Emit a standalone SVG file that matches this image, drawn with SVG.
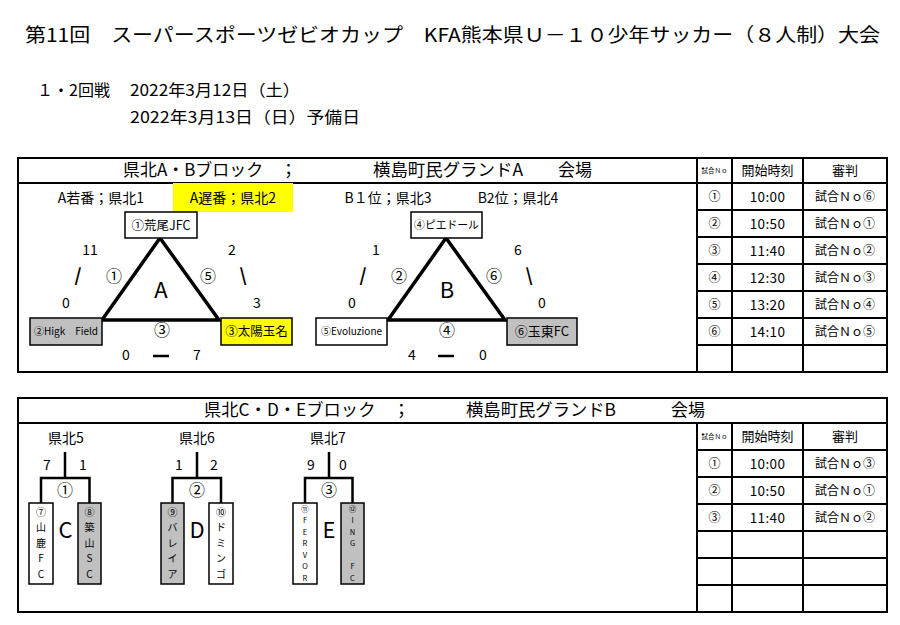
<svg xmlns="http://www.w3.org/2000/svg" width="900" height="625" viewBox="0 0 900 625">
<style>
text{font-family:"Noto Sans CJK JP","Noto Sans",sans-serif;fill:#000}
.c{text-anchor:middle}
.frame{fill:none;stroke:#000;stroke-width:2}
.grid{stroke:#000;stroke-width:2;fill:none}
.box{stroke:#000;stroke-width:1.5}
.w{fill:#fff}.g{fill:#c0c0c0}.y{fill:#ffff00}
.tri{fill:none;stroke:#000;stroke-width:3.5;stroke-linejoin:miter}
.br{fill:none;stroke:#000;stroke-width:2.5}
.s14{font-size:14px}.s16{font-size:16px}.s17{font-size:17px}
.sl{font-size:18px;font-weight:bold}
.t13{font-size:13px}.t12{font-size:12px}.tm{font-size:13.5px;letter-spacing:0.4px}
.v{font-size:10px;text-anchor:middle}
.vs{font-size:7.5px;text-anchor:middle}
</style>
<rect width="900" height="625" fill="#fff"/>

<g id="header">
<text x="25" y="42" font-size="19" textLength="855" lengthAdjust="spacingAndGlyphs">第11回　スーパースポーツゼビオカップ　KFA熊本県Ｕ－１０少年サッカー（８人制）大会</text>
<text x="37" y="96" class="s16">１・2回戦</text>
<text x="130" y="96" class="s16" textLength="170" lengthAdjust="spacingAndGlyphs">2022年3月12日（土）</text>
<text x="130" y="123" class="s16" textLength="230" lengthAdjust="spacingAndGlyphs">2022年3月13日（日）予備日</text>
</g>

<!-- upper block frame -->
<g id="blockAB-frame">
<rect class="frame" x="18" y="158" width="869" height="214"/>
<path class="grid" d="M18 183H697M697 158V372M732 158V372M803 158V372M697 183H887M697 210H887M697 237H887M697 264H887M697 291H887M697 318H887M697 345H887"/>
<text x="123" y="176" class="s17" textLength="174" lengthAdjust="spacingAndGlyphs">県北A・Bブロック　；</text>
<text x="373" y="176" class="s17" textLength="150" lengthAdjust="spacingAndGlyphs">横島町民グランドA</text>
<text x="558" y="176" class="s17">会場</text>
<rect class="y" x="173" y="183" width="120" height="29"/>
<text x="101" y="203" class="s14 c">A若番；県北1</text>
<text x="233" y="203" class="s14 c">A遅番；県北2</text>
<text x="388" y="203" class="s14 c">B１位；県北3</text>
<text x="518" y="203" class="s14 c">B2位；県北4</text>
</g>

<g id="tableAB">
<text x="714.5" y="173" class="c" font-size="6.5">試合Ｎｏ</text>
<text x="767.5" y="175" class="t13 c">開始時刻</text>
<text x="845" y="175" class="t13 c">審判</text>
<text x="714.5" y="201" class="t12 c">①</text><text x="767.5" y="201.5" class="tm c">10:00</text><text x="845" y="201" class="t12 c">試合Ｎｏ⑥</text>
<text x="714.5" y="228" class="t12 c">②</text><text x="767.5" y="228.5" class="tm c">10:50</text><text x="845" y="228" class="t12 c">試合Ｎｏ①</text>
<text x="714.5" y="255" class="t12 c">③</text><text x="767.5" y="255.5" class="tm c">11:40</text><text x="845" y="255" class="t12 c">試合Ｎｏ②</text>
<text x="714.5" y="282" class="t12 c">④</text><text x="767.5" y="282.5" class="tm c">12:30</text><text x="845" y="282" class="t12 c">試合Ｎｏ③</text>
<text x="714.5" y="309" class="t12 c">⑤</text><text x="767.5" y="309.5" class="tm c">13:20</text><text x="845" y="309" class="t12 c">試合Ｎｏ④</text>
<text x="714.5" y="336" class="t12 c">⑥</text><text x="767.5" y="336.5" class="tm c">14:10</text><text x="845" y="336" class="t12 c">試合Ｎｏ⑤</text>
</g>

<g id="connectors">
<polygon class="tri" points="160,238 102,320 219,320"/>
<polygon class="tri" points="446,238 388,320 505,320"/>
<path class="br" d="M153 356H169M438 356H454"/>
<path class="br" d="M65 452V478M41 503V478H89.5V503"/>
<path class="br" d="M197 452V478M172.5 503V478H221V503"/>
<path class="br" d="M329 452V478M305 503V478H352.5V503"/>
</g>

<g id="labelsA">
<text x="90" y="255" class="s14 c">11</text>
<text x="78" y="282" class="sl c">/</text>
<text x="66" y="308" class="s14 c">0</text>
<text x="114" y="282" class="s16 c">①</text>
<text x="161" y="298" class="c" font-size="22">A</text>
<text x="208" y="282" class="s16 c">⑤</text>
<text x="232" y="255" class="s14 c">2</text>
<text x="243" y="282" class="sl c">\</text>
<text x="257" y="308" class="s14 c">3</text>
<text x="162" y="336" class="s16 c">③</text>
<text x="126" y="360" class="s14 c">0</text>
<text x="197" y="360" class="s14 c">7</text>
</g>
<g id="labelsB">
<text x="376" y="255" class="s14 c">1</text>
<text x="363" y="282" class="sl c">/</text>
<text x="352" y="308" class="s14 c">0</text>
<text x="399" y="282" class="s16 c">②</text>
<text x="447" y="298" class="c" font-size="22">B</text>
<text x="494" y="282" class="s16 c">⑥</text>
<text x="518" y="255" class="s14 c">6</text>
<text x="529" y="282" class="sl c">\</text>
<text x="542" y="308" class="s14 c">0</text>
<text x="447" y="336" class="s16 c">④</text>
<text x="412" y="360" class="s14 c">4</text>
<text x="483" y="360" class="s14 c">0</text>
</g>

<g id="node1"><rect class="box w" x="125" y="212" width="72" height="26"/><text x="161" y="229.5" class="c" font-size="12.5">①荒尾JFC</text></g>
<g id="node2"><rect class="box g" x="30" y="318" width="72" height="27"/><text x="66" y="335" class="c" font-size="10">②Higk　Field</text></g>
<g id="node3"><rect class="box y" x="221" y="318" width="71" height="27"/><text x="256.5" y="336" class="c" font-size="12.5">③太陽玉名</text></g>
<g id="node4"><rect class="box w" x="411" y="212" width="71" height="26"/><text x="446.5" y="229" class="c" font-size="10.8">④ピエドール</text></g>
<g id="node5"><rect class="box w" x="316" y="318" width="71" height="27"/><text x="351.5" y="335" class="c" font-size="10">⑤Evoluzione</text></g>
<g id="node6"><rect class="box g" x="507" y="318" width="70" height="27"/><text x="542" y="336" class="c" font-size="13">⑥玉東FC</text></g>

<!-- lower block -->
<g id="blockCDE-frame">
<rect class="frame" x="18" y="398" width="869" height="214"/>
<path class="grid" d="M18 423H887M697 423V612M732 423V612M803 423V612M697 450H887M697 477H887M697 504H887M697 531H887M697 558H887M697 585H887"/>
<text x="204" y="416" class="s17" textLength="206" lengthAdjust="spacingAndGlyphs">県北C・D・Eブロック　；</text>
<text x="466" y="416" class="s17" textLength="150" lengthAdjust="spacingAndGlyphs">横島町民グランドB</text>
<text x="671" y="416" class="s17">会場</text>
</g>

<g id="tableCDE">
<text x="714.5" y="439" class="c" font-size="6.5">試合Ｎｏ</text>
<text x="767.5" y="441" class="t13 c">開始時刻</text>
<text x="845" y="441" class="t13 c">審判</text>
<text x="714.5" y="468" class="t12 c">①</text><text x="767.5" y="468.5" class="tm c">10:00</text><text x="845" y="468" class="t12 c">試合Ｎｏ③</text>
<text x="714.5" y="495" class="t12 c">②</text><text x="767.5" y="495.5" class="tm c">10:50</text><text x="845" y="495" class="t12 c">試合Ｎｏ①</text>
<text x="714.5" y="522" class="t12 c">③</text><text x="767.5" y="522.5" class="tm c">11:40</text><text x="845" y="522" class="t12 c">試合Ｎｏ②</text>
</g>

<g id="labelsCDE">
<text x="66" y="443" class="s14 c">県北5</text>
<text x="197" y="443" class="s14 c">県北6</text>
<text x="328" y="443" class="s14 c">県北7</text>
<text x="47" y="470" class="s14 c">7</text><text x="83" y="470" class="s14 c">1</text>
<text x="179" y="470" class="s14 c">1</text><text x="214" y="470" class="s14 c">2</text>
<text x="311" y="470" class="s14 c">9</text><text x="343" y="470" class="s14 c">0</text>
<text x="65" y="496" class="s16 c">①</text>
<text x="197" y="496" class="s16 c">②</text>
<text x="329" y="496" class="s16 c">③</text>
<text x="65.5" y="538" class="c" font-size="22">C</text>
<text x="197" y="538" class="c" font-size="22">D</text>
<text x="329" y="538" class="c" font-size="22">E</text>
</g>

<g id="node7"><rect class="box w" x="29" y="503" width="24" height="81"/>
<text x="41" y="516" class="v">⑦</text><text x="41" y="531" class="v">山</text><text x="41" y="546.5" class="v">鹿</text><text x="41" y="562" class="v">F</text><text x="41" y="577.5" class="v">C</text></g>
<g id="node8"><rect class="box g" x="78" y="503" width="23" height="81"/>
<text x="89.5" y="516" class="v">⑧</text><text x="89.5" y="531" class="v">築</text><text x="89.5" y="546.5" class="v">山</text><text x="89.5" y="562" class="v">S</text><text x="89.5" y="577.5" class="v">C</text></g>
<g id="node9"><rect class="box g" x="161" y="503" width="23" height="81"/>
<text x="172.5" y="516" class="v">⑨</text><text x="172.5" y="531" class="v">バ</text><text x="172.5" y="546.5" class="v">レ</text><text x="172.5" y="562" class="v">イ</text><text x="172.5" y="577.5" class="v">ア</text></g>
<g id="node10"><rect class="box w" x="209" y="503" width="24" height="81"/>
<text x="221" y="516" class="v">⑩</text><text x="221" y="531" class="v">ド</text><text x="221" y="546.5" class="v">ミ</text><text x="221" y="562" class="v">ン</text><text x="221" y="577.5" class="v">ゴ</text></g>
<g id="node11"><rect class="box w" x="293" y="503" width="24" height="81"/>
<text x="305" y="511.5" class="vs">⑪</text><text x="305" y="523" class="vs">F</text><text x="305" y="534.5" class="vs">E</text><text x="305" y="546" class="vs">R</text><text x="305" y="557.5" class="vs">V</text><text x="305" y="569" class="vs">O</text><text x="305" y="580.5" class="vs">R</text></g>
<g id="node12"><rect class="box g" x="341" y="503" width="23" height="81"/>
<text x="352.5" y="511.5" class="vs">⑫</text><text x="352.5" y="523" class="vs">I</text><text x="352.5" y="534.5" class="vs">N</text><text x="352.5" y="546" class="vs">G</text><text x="352.5" y="569" class="vs">F</text><text x="352.5" y="580.5" class="vs">C</text></g>
</svg>
